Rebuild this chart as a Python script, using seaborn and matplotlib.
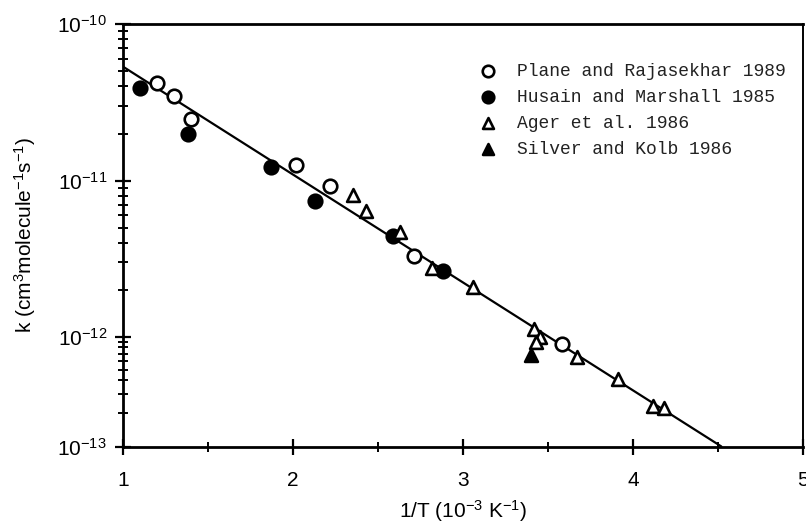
import numpy as np
import pandas as pd
import matplotlib
matplotlib.use("Agg")
import matplotlib.pyplot as plt
import seaborn as sns
from matplotlib.ticker import FixedLocator, FixedFormatter, NullFormatter

# Rate constants k (cm3 molecule-1 s-1) against 1/T (10^-3 K^-1)
plane_x = [1.20, 1.30, 1.40, 2.02, 2.22, 2.71, 3.58]
plane_k = [4.2e-11, 3.5e-11, 2.5e-11, 1.26e-11, 9.3e-12, 3.3e-12, 8.5e-13]

husain_x = [1.10, 1.38, 1.87, 2.13, 2.59, 2.88]
husain_k = [3.9e-11, 2.0e-11, 1.23e-11, 7.4e-12, 4.4e-12, 2.65e-12]

ager_x = [2.35, 2.43, 2.63, 2.82, 3.06, 3.42, 3.45, 3.43, 3.67, 3.91, 4.12, 4.18]
ager_k = [8.1e-12, 6.4e-12, 4.7e-12, 2.76e-12, 2.09e-12, 1.12e-12, 1.0e-12,
          9.0e-13, 6.5e-13, 4.1e-13, 2.33e-13, 2.25e-13]

silver_x = [3.40]
silver_k = [6.8e-13]

# Arrhenius fit drawn across the plot
fit_x = [1.0, 4.52]
fit_k = [5.35e-11, 1.0e-13]

labels = ["Plane and Rajasekhar 1989", "Husain and Marshall 1985",
          "Ager et al. 1986", "Silver and Kolb 1986"]

x_ticks = [1, 2, 3, 4, 5]
y_ticks = [1e-13, 1e-12, 1e-11, 1e-10]
y_ticklabels = [r"$10^{-13}$", r"$10^{-12}$", r"$10^{-11}$", r"$10^{-10}$"]

# Decade spacing of the printed log axis (relative lengths of each decade)
decade_exp = [-13.0, -12.0, -11.0, -10.0]
decade_pos = [0.0, 110.0, 265.5, 422.5]


def _piecewise(x, xp, fp):
    x = np.asarray(x, dtype=float)
    y = np.interp(x, xp, fp)
    y = np.where(x < xp[0], fp[0] + (x - xp[0]) * (fp[1] - fp[0]) / (xp[1] - xp[0]), y)
    y = np.where(x > xp[-1], fp[-1] + (x - xp[-1]) * (fp[-1] - fp[-2]) / (xp[-1] - xp[-2]), y)
    return y


def k_forward(v):
    v = np.clip(np.asarray(v, dtype=float), 1e-30, None)
    return _piecewise(np.log10(v), decade_exp, decade_pos)


def k_inverse(t):
    return 10.0 ** _piecewise(t, decade_pos, decade_exp)


sns.set_theme(style="white")
plt.rcParams["font.family"] = ["Liberation Sans", "DejaVu Sans"]
plt.rcParams["mathtext.fontset"] = "custom"
plt.rcParams["mathtext.rm"] = "Liberation Sans"
plt.rcParams["mathtext.it"] = "Liberation Sans:italic"
plt.rcParams["mathtext.bf"] = "Liberation Sans:bold"

fig = plt.figure(figsize=(8.06, 5.28), dpi=100)
ax = fig.add_axes([123 / 806, 1 - 446.5 / 528, 680 / 806, 422.5 / 528])
ax.set_yscale("function", functions=(k_forward, k_inverse))

fit_df = pd.DataFrame({"x": fit_x, "k": fit_k})
sns.lineplot(data=fit_df, x="x", y="k", color="black", linewidth=1.6, ax=ax, zorder=2)

series = [
    (plane_x, plane_k, "o", "white", labels[0]),
    (husain_x, husain_k, "o", "black", labels[1]),
    (ager_x, ager_k, "^", "white", labels[2]),
    (silver_x, silver_k, "^", "black", labels[3]),
]
for xs, ks, mk, face, lab in series:
    df = pd.DataFrame({"x": xs, "k": ks})
    sns.scatterplot(data=df, x="x", y="k", marker=mk, s=95 if mk == "o" else 85,
                    facecolor=face, edgecolor="black", linewidth=1.9,
                    label=lab, ax=ax, zorder=3)

ax.set_xlim(1, 5)
ax.set_ylim(1e-13, 1e-10)

ax.xaxis.set_major_locator(FixedLocator(x_ticks))
ax.xaxis.set_major_formatter(FixedFormatter([str(t) for t in x_ticks]))
ax.xaxis.set_minor_locator(FixedLocator([1.5, 2.5, 3.5, 4.5]))
ax.xaxis.set_minor_formatter(NullFormatter())

minor_k = [m * 10.0 ** e for e in (-13, -12, -11) for m in range(2, 10)]
ax.yaxis.set_major_locator(FixedLocator(y_ticks))
ax.yaxis.set_major_formatter(FixedFormatter(y_ticklabels))
ax.yaxis.set_minor_locator(FixedLocator(minor_k))
ax.yaxis.set_minor_formatter(NullFormatter())

ax.tick_params(axis="both", which="major", direction="inout", length=11, width=1.6,
               color="black", labelsize=15, labelcolor="black",
               bottom=True, left=True, top=False, right=False)
ax.tick_params(axis="both", which="minor", direction="inout", length=7, width=1.4,
               color="black", bottom=True, left=True, top=False, right=False)
ax.tick_params(axis="x", which="major", pad=12)
ax.tick_params(axis="y", which="major", pad=6)

for side in ["left", "bottom", "top"]:
    ax.spines[side].set_color("black")
    ax.spines[side].set_linewidth(2.0)
ax.spines["right"].set_color("black")
ax.spines["right"].set_linewidth(1.4)

ax.set_xlabel(r"1/T (10$^{-3}$ K$^{-1}$)", fontsize=15, color="black", labelpad=6)
ax.set_ylabel(r"k (cm$^3$molecule$^{-1}$s$^{-1}$)", fontsize=15, color="black", labelpad=14)

leg = ax.legend(loc="upper right", bbox_to_anchor=(0.985, 0.925), frameon=False,
                prop={"family": "Liberation Mono", "size": 13},
                handletextpad=0.6, labelspacing=0.5, borderaxespad=0.0,
                markerscale=0.85)
for t in leg.get_texts():
    t.set_color("#222222")

fig.savefig("out.png", dpi=100, facecolor="white")
